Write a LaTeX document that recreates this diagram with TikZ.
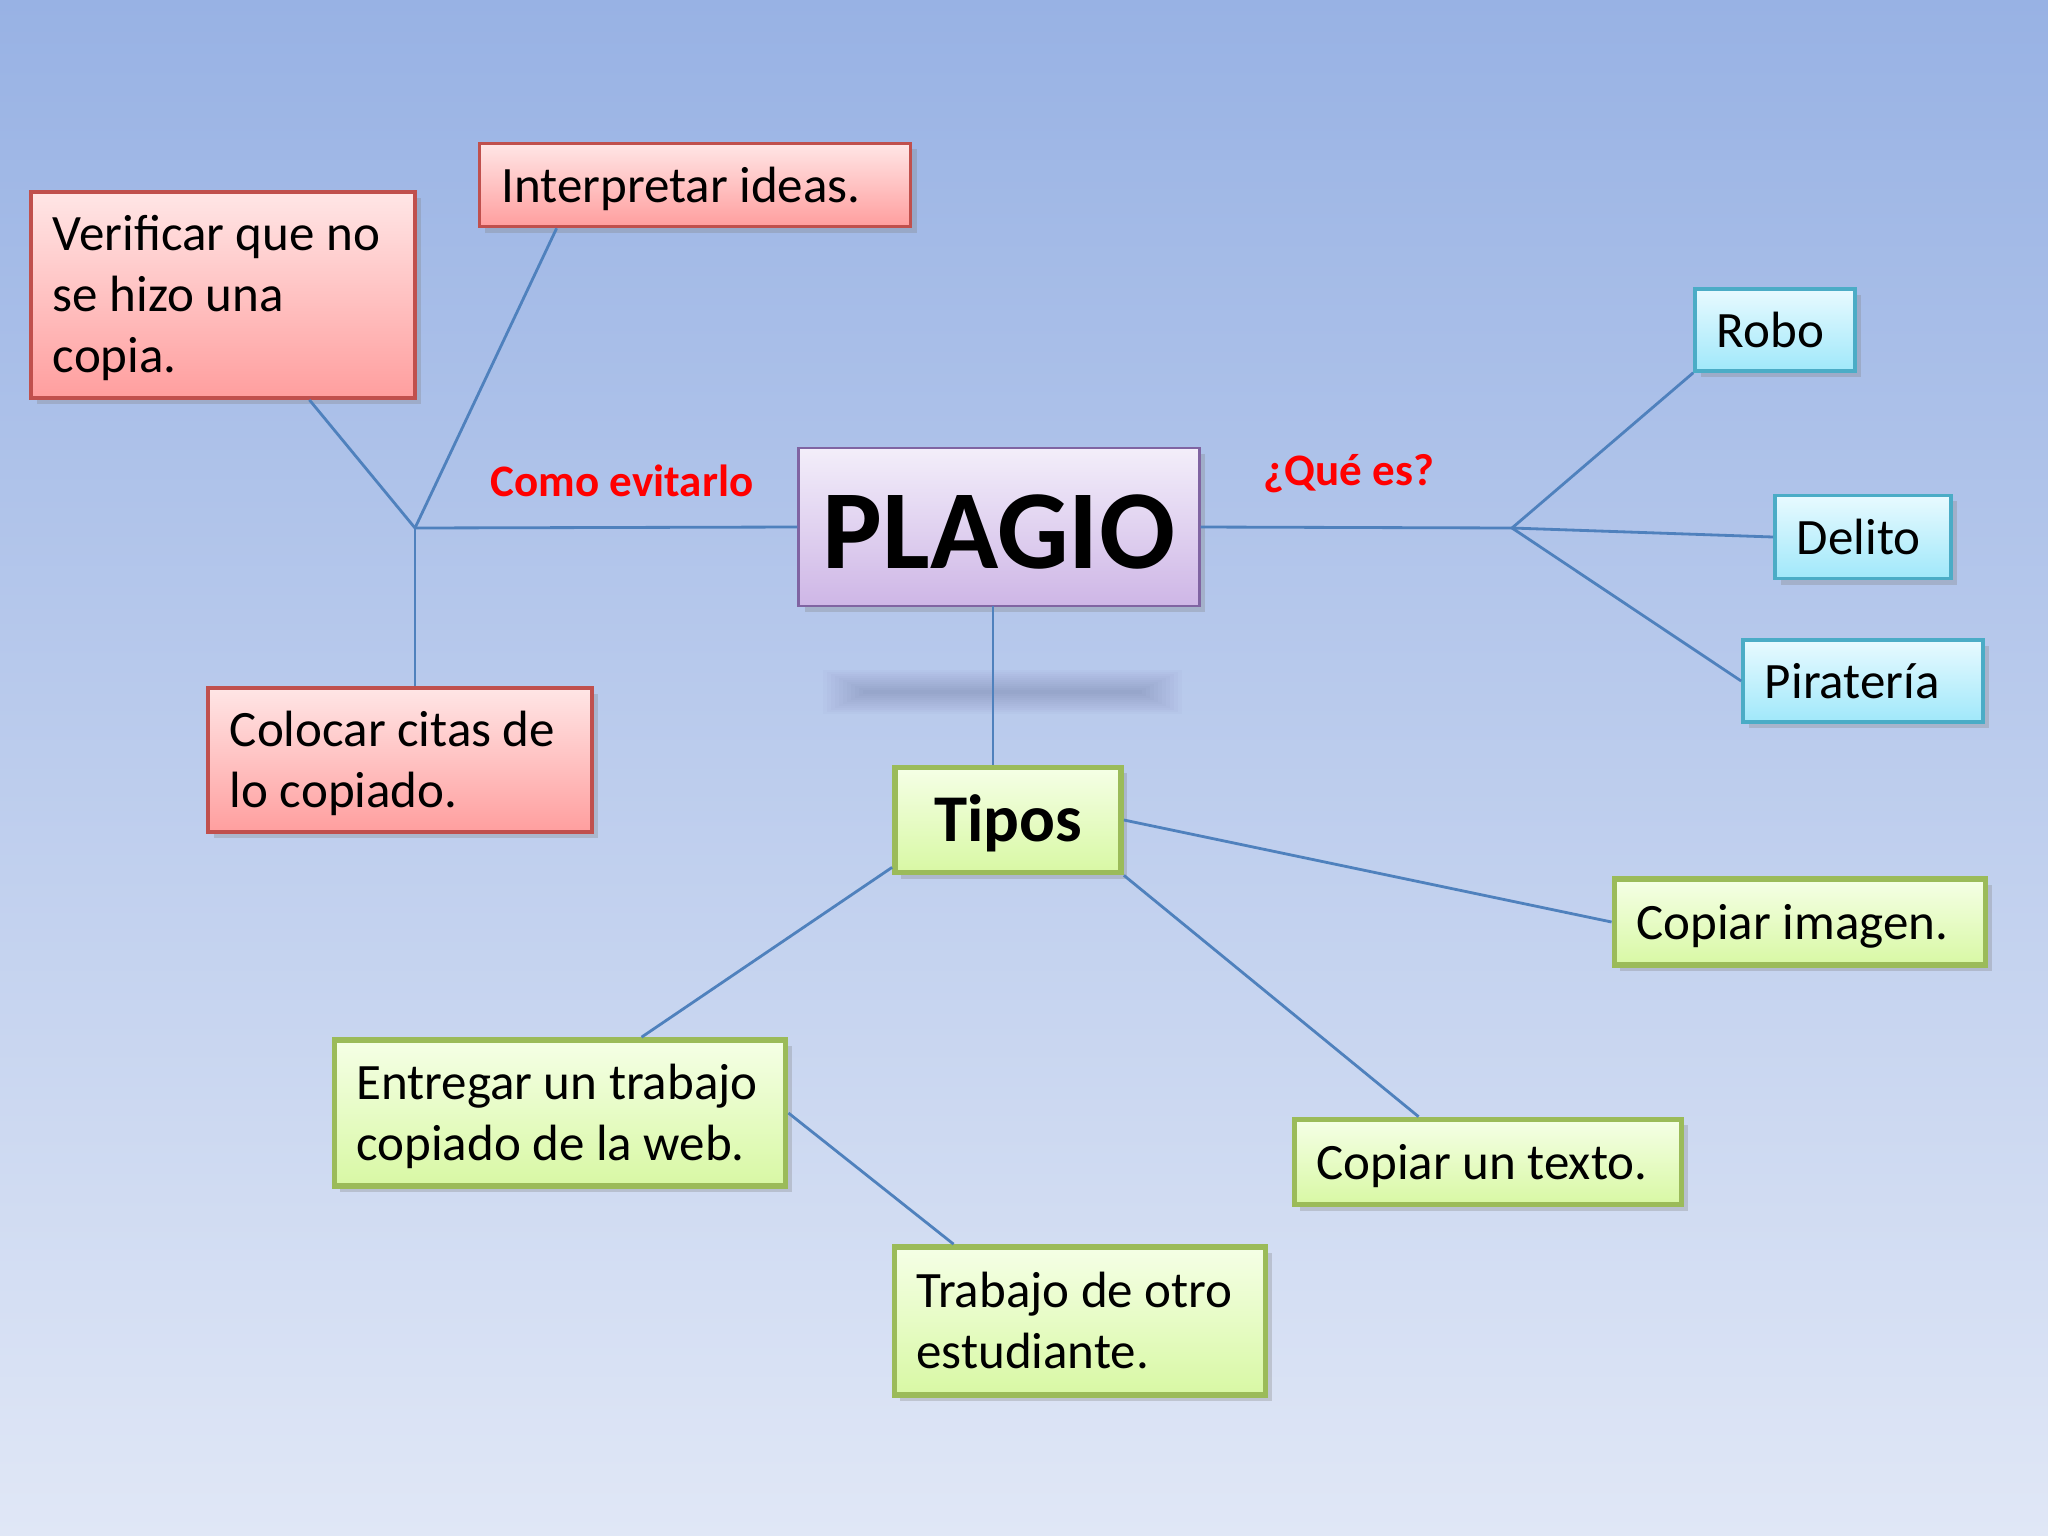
\documentclass[tikz,border=0pt]{standalone}
\usepackage{fontspec}
\setmainfont{Carlito}
\usetikzlibrary{positioning,calc,shadows}

\definecolor{bgtop}{RGB}{152,178,228}
\definecolor{bgbot}{RGB}{224,231,246}
\definecolor{linkblue}{RGB}{79,129,189}
\definecolor{redline}{RGB}{192,80,77}
\definecolor{redtop}{RGB}{255,230,230}
\definecolor{redbot}{RGB}{255,158,158}
\definecolor{cyanline}{RGB}{75,172,198}
\definecolor{cyantop}{RGB}{232,250,255}
\definecolor{cyanbot}{RGB}{160,232,250}
\definecolor{greenline}{RGB}{155,187,89}
\definecolor{greentop}{RGB}{245,255,230}
\definecolor{greenbot}{RGB}{216,248,164}
\definecolor{purpline}{RGB}{128,100,162}
\definecolor{purptop}{RGB}{243,238,250}
\definecolor{purpbot}{RGB}{206,182,230}

\tikzset{
	box/.style={rectangle, align=flush left, inner xsep=0.22cm, inner ysep=0pt,
		font=\fontsize{14.5}{17.4}\selectfont,
		drop shadow={shadow xshift=0.6mm, shadow yshift=-0.6mm, opacity=0.3}},
	oneline/.style={text height=0.37cm, text depth=0.03cm},
	twolines/.style={text height=0.1cm, text depth=0.374cm},
	threelines/.style={text height=0.1cm, text depth=0.988cm},
	redbox/.style={box, draw=redline, line width=1pt, top color=redtop, bottom color=redbot},
	cyanbox/.style={box, oneline, draw=cyanline, line width=1pt, top color=cyantop, bottom color=cyanbot},
	greenbox/.style={box, draw=greenline, line width=1.6pt, top color=greentop, bottom color=greenbot},
	link/.style={linkblue, line width=0.8pt},
	question/.style={text=red, font=\bfseries\fontsize{12.8}{15}\selectfont}
}

\begin{document}
\begin{tikzpicture}[x=0.01cm, y=-0.01cm]
		\useasboundingbox (0,0) rectangle (2048,1536);
		\shade[top color=bgtop, bottom color=bgbot] (0,0) rectangle (2048,1536);
		% blurred band under the title
		\foreach \r in {0,...,10}
			\fill[black!80!blue, opacity=0.016] ({823+\r*4},{670+\r*2}) rectangle ({1182-\r*4},{714-\r*2});

		\node[rectangle, draw=purpline, line width=0.8pt, top color=purptop, bottom color=purpbot,
			minimum width=4cm, minimum height=1.58cm, text height=0.82cm, text depth=0cm,
			font=\bfseries\fontsize{32}{36}\selectfont,
			drop shadow={shadow xshift=0.6mm, shadow yshift=-0.6mm, opacity=0.3}] (plagio) at (999,527) {PLAGIO};
		\node[greenbox, align=center, minimum width=2.26cm, minimum height=1.05cm,
			text height=0.43cm, text depth=0cm,
			font=\bfseries\fontsize{19}{22}\selectfont] (tipos) at (1008,820) {Tipos};

		\coordinate (lhub) at (415,528);
		\coordinate (rhub) at (1512,528);
		\coordinate (pbot) at (993,606);

		\node[question] (evitar) at (622,481) {Como evitarlo};
		\node[question] (quees) at (1349,474) {¿Qué es?};

		\node[redbox, threelines, text width=3.40cm, minimum height=2.06cm] (verif) at (223,295) {Verificar que no\\ se hizo una\\ copia.};
		\node[redbox, oneline, text width=3.87cm, minimum height=0.83cm] (interp) at (695,185) {Interpretar ideas.};
		\node[redbox, twolines, text width=3.40cm, minimum height=1.44cm] (colocar) at (400,760) {Colocar citas de\\ lo copiado.};

		\node[cyanbox, text width=1.16cm, minimum height=0.82cm] (robo) at (1775,330) {Robo};
		\node[cyanbox, text width=1.32cm, minimum height=0.83cm] (delito) at (1863,537) {Delito};
		\node[cyanbox, text width=1.96cm, minimum height=0.82cm] (pirat) at (1863,681) {Piratería};

		\node[greenbox, oneline, text width=3.27cm, minimum height=0.86cm] (imagen) at (1800,922) {Copiar imagen.};
		\node[greenbox, oneline, text width=3.43cm, minimum height=0.85cm] (texto) at (1488,1162) {Copiar un texto.};
		\node[greenbox, twolines, text width=4.07cm, minimum height=1.46cm] (entregar) at (560,1113) {Entregar un trabajo\\ copiado de la web.};
		\node[greenbox, twolines, text width=3.27cm, minimum height=1.48cm] (otro) at (1080,1321) {Trabajo de otro\\ estudiante.};

		\path[link]
			(plagio.west) edge (lhub)
			(lhub) edge (verif)
			(lhub) edge ($(interp.south west)+(79,0)$)
			(lhub) edge (lhub |- colocar.north)
			(plagio.east) edge (rhub)
			(rhub) edge (robo.south west)
			(rhub) edge (delito.west)
			(rhub) edge (pirat.west)
			(pbot) edge (pbot |- tipos.north)
			(tipos.east) edge (imagen.west)
			(tipos.south east) edge ($(texto.north west)+(127,0)$)
			($(tipos.south west)+(0,-8)$) edge ($(entregar.north west)+(310,0)$)
			(entregar.east) edge ($(otro.north west)+(62,0)$);
	\end{tikzpicture}
\end{document}
